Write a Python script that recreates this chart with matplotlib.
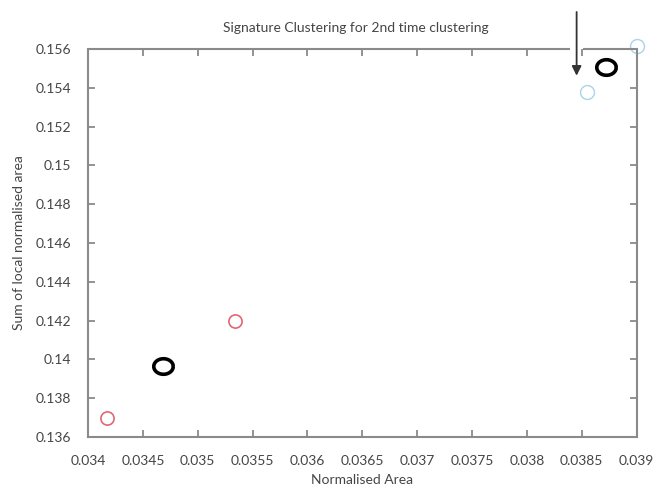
import matplotlib
matplotlib.use("Agg")
import matplotlib.pyplot as plt
import numpy as np

# cluster members and centres
red_x = [0.03417, 0.03534]
red_y = [0.1370, 0.14196]
blue_x = [0.03855, 0.03900]
blue_y = [0.15379, 0.15617]
centre_x = [0.03468, 0.03872]
centre_y = [0.13967, 0.15505]

x_ticks = [0.034, 0.0345, 0.035, 0.0355, 0.036, 0.0365, 0.037, 0.0375, 0.038, 0.0385, 0.039]
x_labels = ["0.034", "0.0345", "0.035", "0.0355", "0.036", "0.0365", "0.037", "0.0375", "0.038", "0.0385", "0.039"]
y_ticks = [0.136, 0.138, 0.14, 0.142, 0.144, 0.146, 0.148, 0.15, 0.152, 0.154, 0.156]
y_labels = ["0.136", "0.138", "0.14", "0.142", "0.144", "0.146", "0.148", "0.15", "0.152", "0.154", "0.156"]

txt = "#454545"
axc = "#8a8a8a"
plt.rcParams['font.family'] = ['Lato', 'DejaVu Sans']

fig = plt.figure(figsize=(6.57, 4.90), dpi=100)
ax = fig.add_axes([0.134, 0.108, 0.835, 0.792])

# slightly squashed ring for the centres
t = np.linspace(0, 2*np.pi, 60)
ring = np.column_stack([np.cos(t), 0.8*np.sin(t)])

ax.plot(red_x, red_y, 'o', ms=9.5, mfc='none', mec='#e06874', mew=1.2, clip_on=False)
ax.plot(blue_x, blue_y, 'o', ms=10, mfc='none', mec='#a8d4ec', mew=1.0, clip_on=False)
ax.plot(centre_x, centre_y, linestyle='none', marker=ring, ms=14, mfc='none', mec='black', mew=2.6, clip_on=False)

ax.set_xlim(0.034, 0.039)
ax.set_ylim(0.136, 0.156)
ax.set_xticks(x_ticks)
ax.set_xticklabels(x_labels)
ax.set_yticks(y_ticks)
ax.set_yticklabels(y_labels)
ax.tick_params(direction='in', length=5, width=1.3, color=axc, labelcolor=txt, labelsize=10,
               top=True, right=True)
ax.tick_params(axis='x', pad=13)
ax.tick_params(axis='y', pad=12)

for s in ax.spines.values():
    s.set_color(axc)
    s.set_linewidth(1.5)

# top spine is broken where the arrow comes through
ax.spines['top'].set_visible(False)
gap = (0.03839, 0.03851)
ax.plot([0.034, gap[0]], [0.156, 0.156], color=axc, lw=1.5, clip_on=False, solid_capstyle='butt')
ax.plot([gap[1], 0.039], [0.156, 0.156], color=axc, lw=1.5, clip_on=False, solid_capstyle='butt')

ax.annotate("", xy=(0.038453, 0.15448), xytext=(0.038453, 0.15805),
            xycoords='data', annotation_clip=False,
            arrowprops=dict(arrowstyle='-|>', color='#333333', lw=1.3, mutation_scale=14))

fig.text(0.542, 0.942, "Signature Clustering for 2nd time clustering", ha='center', va='center',
         fontsize=10, color=txt)
ax.set_xlabel("Normalised Area", fontsize=10, color=txt, labelpad=5)
ax.set_ylabel("Sum of local normalised area", fontsize=10, color=txt, labelpad=8)

fig.savefig("out.png", dpi=100)
